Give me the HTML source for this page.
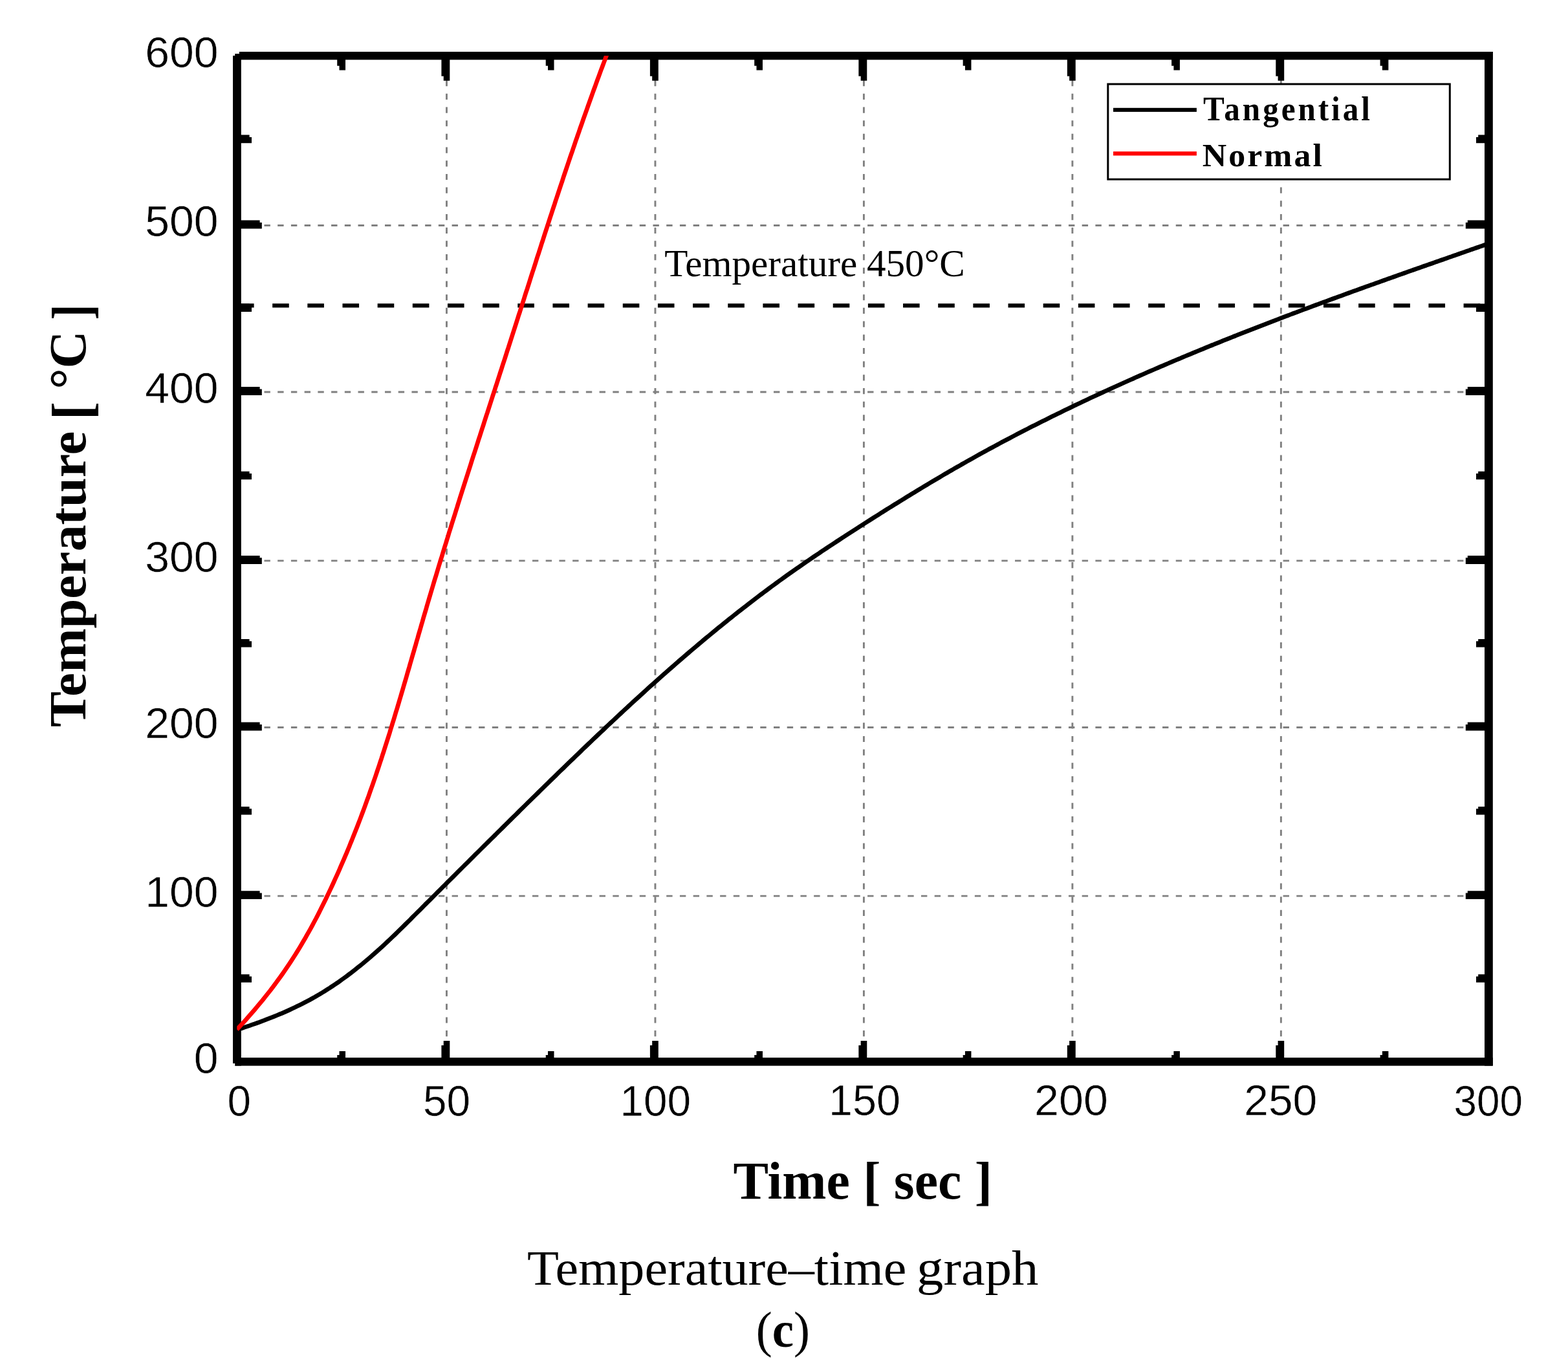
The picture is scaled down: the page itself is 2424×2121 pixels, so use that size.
<!DOCTYPE html>
<html><head><meta charset="utf-8"><title>Temperature–time graph</title>
<style>
html,body{margin:0;padding:0;background:#fff;}
body{width:2424px;height:2121px;overflow:hidden;}
svg{display:block;}
</style></head>
<body>
<svg width="2424" height="2121" viewBox="0 0 2424 2121">
<rect x="0" y="0" width="2424" height="2121" fill="#fff"/>
<line x1="690.47" y1="92.40" x2="690.47" y2="1635.00" stroke="#808080" stroke-width="2.9" stroke-dasharray="9.2 11.49" stroke-dashoffset="-11"/>
<line x1="1012.94" y1="92.40" x2="1012.94" y2="1635.00" stroke="#808080" stroke-width="2.9" stroke-dasharray="9.2 11.49" stroke-dashoffset="-11"/>
<line x1="1335.41" y1="92.40" x2="1335.41" y2="1635.00" stroke="#808080" stroke-width="2.9" stroke-dasharray="9.2 11.49" stroke-dashoffset="-11"/>
<line x1="1657.88" y1="92.40" x2="1657.88" y2="1635.00" stroke="#808080" stroke-width="2.9" stroke-dasharray="9.2 11.49" stroke-dashoffset="-11"/>
<line x1="1980.35" y1="92.40" x2="1980.35" y2="1635.00" stroke="#808080" stroke-width="2.9" stroke-dasharray="9.2 11.49" stroke-dashoffset="-11"/>
<line x1="367" y1="1385.10" x2="2295.00" y2="1385.10" stroke="#808080" stroke-width="2.9" stroke-dasharray="9.4 11.325"/>
<line x1="367" y1="1124.50" x2="2295.00" y2="1124.50" stroke="#808080" stroke-width="2.9" stroke-dasharray="9.4 11.325"/>
<line x1="367" y1="866.90" x2="2295.00" y2="866.90" stroke="#808080" stroke-width="2.9" stroke-dasharray="9.4 11.325"/>
<line x1="367" y1="606.00" x2="2295.00" y2="606.00" stroke="#808080" stroke-width="2.9" stroke-dasharray="9.4 11.325"/>
<line x1="367" y1="348.50" x2="2295.00" y2="348.50" stroke="#808080" stroke-width="2.9" stroke-dasharray="9.4 11.325"/>
<line x1="367" y1="472.4" x2="2295.00" y2="472.4" stroke="#000" stroke-width="6.2" stroke-dasharray="25.6 28.56"/>
<rect x="1712.8" y="130.0" width="528.5" height="147.2" fill="#fff" stroke="#000" stroke-width="3"/>
<rect x="1721.00" y="166.80" width="128.90" height="6.10" fill="#000"/>
<rect x="1721.00" y="234.20" width="128.90" height="6.30" fill="#f00"/>
<rect x="360.00" y="80.00" width="1947.80" height="12.40" fill="#000"/>
<rect x="360.00" y="1635.00" width="1947.80" height="12.60" fill="#000"/>
<rect x="360.00" y="80.00" width="12.80" height="1567.60" fill="#000"/>
<rect x="2295.00" y="80.00" width="12.80" height="1567.60" fill="#000"/>
<rect x="359.50" y="79.50" width="3.70" height="6.60" fill="#fff"/>
<rect x="359.50" y="79.50" width="10.40" height="3.60" fill="#fff"/>
<rect x="359.50" y="1643.90" width="3.70" height="4.20" fill="#fff"/>
<polygon points="682.42,90.40 695.32,90.40 695.32,124.70 685.72,124.70 685.72,117.70 682.42,117.70" fill="#000"/>
<polygon points="682.42,1637.00 695.32,1637.00 695.32,1609.00 685.72,1609.00 685.72,1616.00 682.42,1616.00" fill="#000"/>
<polygon points="1004.89,90.40 1017.79,90.40 1017.79,124.70 1008.19,124.70 1008.19,117.70 1004.89,117.70" fill="#000"/>
<polygon points="1004.89,1637.00 1017.79,1637.00 1017.79,1609.00 1008.19,1609.00 1008.19,1616.00 1004.89,1616.00" fill="#000"/>
<polygon points="1327.36,90.40 1340.26,90.40 1340.26,124.70 1330.66,124.70 1330.66,117.70 1327.36,117.70" fill="#000"/>
<polygon points="1327.36,1637.00 1340.26,1637.00 1340.26,1609.00 1330.66,1609.00 1330.66,1616.00 1327.36,1616.00" fill="#000"/>
<polygon points="1649.83,90.40 1662.73,90.40 1662.73,124.70 1653.13,124.70 1653.13,117.70 1649.83,117.70" fill="#000"/>
<polygon points="1649.83,1637.00 1662.73,1637.00 1662.73,1609.00 1653.13,1609.00 1653.13,1616.00 1649.83,1616.00" fill="#000"/>
<polygon points="1972.30,90.40 1985.20,90.40 1985.20,124.70 1975.60,124.70 1975.60,117.70 1972.30,117.70" fill="#000"/>
<polygon points="1972.30,1637.00 1985.20,1637.00 1985.20,1609.00 1975.60,1609.00 1975.60,1616.00 1972.30,1616.00" fill="#000"/>
<polygon points="521.24,90.40 534.03,90.40 534.03,108.60 524.53,108.60 524.53,101.70 521.24,101.70" fill="#000"/>
<polygon points="521.24,1637.00 534.03,1637.00 534.03,1625.10 524.53,1625.10 524.53,1631.00 521.24,1631.00" fill="#000"/>
<polygon points="843.71,90.40 856.50,90.40 856.50,108.60 847.00,108.60 847.00,101.70 843.71,101.70" fill="#000"/>
<polygon points="843.71,1637.00 856.50,1637.00 856.50,1625.10 847.00,1625.10 847.00,1631.00 843.71,1631.00" fill="#000"/>
<polygon points="1166.17,90.40 1178.98,90.40 1178.98,108.60 1169.47,108.60 1169.47,101.70 1166.17,101.70" fill="#000"/>
<polygon points="1166.17,1637.00 1178.98,1637.00 1178.98,1625.10 1169.47,1625.10 1169.47,1631.00 1166.17,1631.00" fill="#000"/>
<polygon points="1488.64,90.40 1501.45,90.40 1501.45,108.60 1491.94,108.60 1491.94,101.70 1488.64,101.70" fill="#000"/>
<polygon points="1488.64,1637.00 1501.45,1637.00 1501.45,1625.10 1491.94,1625.10 1491.94,1631.00 1488.64,1631.00" fill="#000"/>
<polygon points="1811.12,90.40 1823.92,90.40 1823.92,108.60 1814.41,108.60 1814.41,101.70 1811.12,101.70" fill="#000"/>
<polygon points="1811.12,1637.00 1823.92,1637.00 1823.92,1625.10 1814.41,1625.10 1814.41,1631.00 1811.12,1631.00" fill="#000"/>
<polygon points="2133.59,90.40 2146.39,90.40 2146.39,108.60 2136.89,108.60 2136.89,101.70 2133.59,101.70" fill="#000"/>
<polygon points="2133.59,1637.00 2146.39,1637.00 2146.39,1625.10 2136.89,1625.10 2136.89,1631.00 2133.59,1631.00" fill="#000"/>
<polygon points="370.80,1377.20 401.60,1377.20 401.60,1380.50 404.80,1380.50 404.80,1390.10 370.80,1390.10" fill="#000"/>
<polygon points="2297.00,1377.20 2268.80,1377.20 2268.80,1380.50 2265.80,1380.50 2265.80,1390.10 2297.00,1390.10" fill="#000"/>
<polygon points="370.80,1116.60 401.60,1116.60 401.60,1119.90 404.80,1119.90 404.80,1129.50 370.80,1129.50" fill="#000"/>
<polygon points="2297.00,1116.60 2268.80,1116.60 2268.80,1119.90 2265.80,1119.90 2265.80,1129.50 2297.00,1129.50" fill="#000"/>
<polygon points="370.80,859.00 401.60,859.00 401.60,862.30 404.80,862.30 404.80,871.90 370.80,871.90" fill="#000"/>
<polygon points="2297.00,859.00 2268.80,859.00 2268.80,862.30 2265.80,862.30 2265.80,871.90 2297.00,871.90" fill="#000"/>
<polygon points="370.80,598.10 401.60,598.10 401.60,601.40 404.80,601.40 404.80,611.00 370.80,611.00" fill="#000"/>
<polygon points="2297.00,598.10 2268.80,598.10 2268.80,601.40 2265.80,601.40 2265.80,611.00 2297.00,611.00" fill="#000"/>
<polygon points="370.80,340.60 401.60,340.60 401.60,343.90 404.80,343.90 404.80,353.50 370.80,353.50" fill="#000"/>
<polygon points="2297.00,340.60 2268.80,340.60 2268.80,343.90 2265.80,343.90 2265.80,353.50 2297.00,353.50" fill="#000"/>
<polygon points="370.80,1506.15 385.60,1506.15 385.60,1509.45 389.00,1509.45 389.00,1518.75 370.80,1518.75" fill="#000"/>
<polygon points="2297.00,1506.15 2285.20,1506.15 2285.20,1509.45 2282.00,1509.45 2282.00,1518.75 2297.00,1518.75" fill="#000"/>
<polygon points="370.80,1247.00 385.60,1247.00 385.60,1250.30 389.00,1250.30 389.00,1259.60 370.80,1259.60" fill="#000"/>
<polygon points="2297.00,1247.00 2285.20,1247.00 2285.20,1250.30 2282.00,1250.30 2282.00,1259.60 2297.00,1259.60" fill="#000"/>
<polygon points="370.80,987.90 385.60,987.90 385.60,991.20 389.00,991.20 389.00,1000.50 370.80,1000.50" fill="#000"/>
<polygon points="2297.00,987.90 2285.20,987.90 2285.20,991.20 2282.00,991.20 2282.00,1000.50 2297.00,1000.50" fill="#000"/>
<polygon points="370.80,728.65 385.60,728.65 385.60,731.95 389.00,731.95 389.00,741.25 370.80,741.25" fill="#000"/>
<polygon points="2297.00,728.65 2285.20,728.65 2285.20,731.95 2282.00,731.95 2282.00,741.25 2297.00,741.25" fill="#000"/>
<polygon points="370.80,469.45 385.60,469.45 385.60,472.75 389.00,472.75 389.00,482.05 370.80,482.05" fill="#000"/>
<polygon points="2297.00,469.45 2285.20,469.45 2285.20,472.75 2282.00,472.75 2282.00,482.05 2297.00,482.05" fill="#000"/>
<polygon points="370.80,208.60 385.60,208.60 385.60,211.90 389.00,211.90 389.00,221.20 370.80,221.20" fill="#000"/>
<polygon points="2297.00,208.60 2285.20,208.60 2285.20,211.90 2282.00,211.90 2282.00,221.20 2297.00,221.20" fill="#000"/>
<defs><clipPath id="pc"><rect x="366.3" y="86.2" width="1935.2" height="1555.1"/></clipPath></defs>
<g clip-path="url(#pc)" fill="none" stroke-width="6.7" stroke-linejoin="round">
<polyline points="366.3,1592.1 370.2,1590.8 374.1,1589.5 377.9,1588.2 381.8,1586.9 385.7,1585.6 389.6,1584.2 393.5,1582.8 397.3,1581.5 401.2,1580.1 405.1,1578.6 409.0,1577.2 412.8,1575.7 416.7,1574.2 420.6,1572.7 424.5,1571.1 428.4,1569.5 432.2,1567.9 436.1,1566.3 440.0,1564.6 443.9,1562.9 447.8,1561.1 451.6,1559.3 455.5,1557.5 459.4,1555.6 463.3,1553.7 467.2,1551.8 471.0,1549.8 474.9,1547.8 478.8,1545.7 482.7,1543.5 486.6,1541.4 490.4,1539.1 494.3,1536.9 498.2,1534.5 502.1,1532.1 505.9,1529.7 509.8,1527.2 513.7,1524.6 517.6,1522.0 521.5,1519.4 525.3,1516.7 529.2,1513.9 533.1,1511.1 537.0,1508.2 540.9,1505.3 544.7,1502.3 548.6,1499.3 552.5,1496.2 556.4,1493.1 560.3,1490.0 564.1,1486.8 568.0,1483.5 571.9,1480.2 575.8,1476.8 579.7,1473.4 583.5,1470.0 587.4,1466.5 591.3,1463.0 595.2,1459.4 599.0,1455.8 602.9,1452.1 606.8,1448.4 610.7,1444.7 614.6,1440.9 618.4,1437.1 622.3,1433.3 626.2,1429.5 630.1,1425.6 634.0,1421.8 637.8,1417.9 641.7,1414.0 645.6,1410.2 649.5,1406.3 653.4,1402.4 657.2,1398.5 661.1,1394.7 665.0,1390.8 668.9,1386.9 672.8,1383.0 676.6,1379.2 680.5,1375.3 684.4,1371.4 688.3,1367.6 692.1,1363.7 696.0,1359.8 699.9,1356.0 703.8,1352.1 707.7,1348.2 711.5,1344.4 715.4,1340.5 719.3,1336.7 723.2,1332.8 727.1,1328.9 730.9,1325.1 734.8,1321.2 738.7,1317.4 742.6,1313.5 746.5,1309.7 750.3,1305.8 754.2,1302.0 758.1,1298.1 762.0,1294.3 765.9,1290.5 769.7,1286.6 773.6,1282.8 777.5,1279.0 781.4,1275.1 785.2,1271.3 789.1,1267.5 793.0,1263.6 796.9,1259.8 800.8,1256.0 804.6,1252.2 808.5,1248.4 812.4,1244.5 816.3,1240.7 820.2,1236.9 824.0,1233.1 827.9,1229.3 831.8,1225.5 835.7,1221.7 839.6,1217.9 843.4,1214.1 847.3,1210.3 851.2,1206.5 855.1,1202.8 859.0,1199.0 862.8,1195.2 866.7,1191.4 870.6,1187.7 874.5,1183.9 878.3,1180.2 882.2,1176.4 886.1,1172.7 890.0,1168.9 893.9,1165.2 897.7,1161.5 901.6,1157.7 905.5,1154.0 909.4,1150.3 913.3,1146.6 917.1,1142.9 921.0,1139.2 924.9,1135.5 928.8,1131.9 932.7,1128.2 936.5,1124.5 940.4,1120.9 944.3,1117.2 948.2,1113.6 952.1,1110.0 955.9,1106.4 959.8,1102.7 963.7,1099.1 967.6,1095.6 971.4,1092.0 975.3,1088.4 979.2,1084.8 983.1,1081.3 987.0,1077.7 990.8,1074.2 994.7,1070.7 998.6,1067.1 1002.5,1063.6 1006.4,1060.1 1010.2,1056.7 1014.1,1053.2 1018.0,1049.7 1021.9,1046.3 1025.8,1042.8 1029.6,1039.4 1033.5,1036.0 1037.4,1032.6 1041.3,1029.2 1045.2,1025.8 1049.0,1022.4 1052.9,1019.1 1056.8,1015.7 1060.7,1012.4 1064.5,1009.1 1068.4,1005.8 1072.3,1002.5 1076.2,999.2 1080.1,995.9 1083.9,992.7 1087.8,989.4 1091.7,986.2 1095.6,983.0 1099.5,979.7 1103.3,976.6 1107.2,973.4 1111.1,970.2 1115.0,967.1 1118.9,963.9 1122.7,960.8 1126.6,957.7 1130.5,954.6 1134.4,951.5 1138.3,948.4 1142.1,945.4 1146.0,942.3 1149.9,939.3 1153.8,936.3 1157.6,933.3 1161.5,930.3 1165.4,927.3 1169.3,924.4 1173.2,921.4 1177.0,918.5 1180.9,915.6 1184.8,912.7 1188.7,909.8 1192.6,906.9 1196.4,904.1 1200.3,901.2 1204.2,898.4 1208.1,895.6 1212.0,892.8 1215.8,890.1 1219.7,887.3 1223.6,884.5 1227.5,881.8 1231.4,879.1 1235.2,876.4 1239.1,873.7 1243.0,871.0 1246.9,868.3 1250.7,865.7 1254.6,863.0 1258.5,860.4 1262.4,857.8 1266.3,855.2 1270.1,852.5 1274.0,850.0 1277.9,847.4 1281.8,844.8 1285.7,842.2 1289.5,839.7 1293.4,837.1 1297.3,834.6 1301.2,832.0 1305.1,829.5 1308.9,827.0 1312.8,824.5 1316.7,822.0 1320.6,819.5 1324.5,817.0 1328.3,814.5 1332.2,812.0 1336.1,809.5 1340.0,807.0 1343.8,804.6 1347.7,802.1 1351.6,799.7 1355.5,797.2 1359.4,794.8 1363.2,792.3 1367.1,789.9 1371.0,787.4 1374.9,785.0 1378.8,782.6 1382.6,780.2 1386.5,777.8 1390.4,775.4 1394.3,773.0 1398.2,770.6 1402.0,768.2 1405.9,765.8 1409.8,763.4 1413.7,761.1 1417.6,758.7 1421.4,756.4 1425.3,754.0 1429.2,751.7 1433.1,749.3 1436.9,747.0 1440.8,744.7 1444.7,742.4 1448.6,740.1 1452.5,737.8 1456.3,735.5 1460.2,733.2 1464.1,731.0 1468.0,728.7 1471.9,726.5 1475.7,724.2 1479.6,722.0 1483.5,719.8 1487.4,717.5 1491.3,715.3 1495.1,713.1 1499.0,711.0 1502.9,708.8 1506.8,706.6 1510.7,704.4 1514.5,702.3 1518.4,700.1 1522.3,698.0 1526.2,695.9 1530.0,693.8 1533.9,691.7 1537.8,689.6 1541.7,687.5 1545.6,685.4 1549.4,683.3 1553.3,681.3 1557.2,679.2 1561.1,677.2 1565.0,675.1 1568.8,673.1 1572.7,671.1 1576.6,669.1 1580.5,667.1 1584.4,665.1 1588.2,663.1 1592.1,661.1 1596.0,659.1 1599.9,657.2 1603.8,655.2 1607.6,653.2 1611.5,651.3 1615.4,649.4 1619.3,647.4 1623.1,645.5 1627.0,643.6 1630.9,641.7 1634.8,639.8 1638.7,637.9 1642.5,636.0 1646.4,634.1 1650.3,632.2 1654.2,630.4 1658.1,628.5 1661.9,626.6 1665.8,624.8 1669.7,623.0 1673.6,621.1 1677.5,619.3 1681.3,617.5 1685.2,615.6 1689.1,613.8 1693.0,612.0 1696.9,610.2 1700.7,608.4 1704.6,606.6 1708.5,604.8 1712.4,603.1 1716.2,601.3 1720.1,599.5 1724.0,597.8 1727.9,596.0 1731.8,594.2 1735.6,592.5 1739.5,590.8 1743.4,589.0 1747.3,587.3 1751.2,585.6 1755.0,583.8 1758.9,582.1 1762.8,580.4 1766.7,578.7 1770.6,577.0 1774.4,575.3 1778.3,573.6 1782.2,572.0 1786.1,570.3 1790.0,568.6 1793.8,566.9 1797.7,565.3 1801.6,563.6 1805.5,562.0 1809.3,560.3 1813.2,558.7 1817.1,557.0 1821.0,555.4 1824.9,553.8 1828.7,552.1 1832.6,550.5 1836.5,548.9 1840.4,547.3 1844.3,545.7 1848.1,544.1 1852.0,542.5 1855.9,540.9 1859.8,539.3 1863.7,537.7 1867.5,536.1 1871.4,534.5 1875.3,533.0 1879.2,531.4 1883.1,529.8 1886.9,528.3 1890.8,526.7 1894.7,525.2 1898.6,523.6 1902.4,522.1 1906.3,520.5 1910.2,519.0 1914.1,517.4 1918.0,515.9 1921.8,514.4 1925.7,512.9 1929.6,511.3 1933.5,509.8 1937.4,508.3 1941.2,506.8 1945.1,505.3 1949.0,503.8 1952.9,502.3 1956.8,500.8 1960.6,499.3 1964.5,497.8 1968.4,496.3 1972.3,494.8 1976.2,493.4 1980.0,491.9 1983.9,490.4 1987.8,488.9 1991.7,487.5 1995.5,486.0 1999.4,484.5 2003.3,483.1 2007.2,481.6 2011.1,480.2 2014.9,478.7 2018.8,477.3 2022.7,475.8 2026.6,474.4 2030.5,472.9 2034.3,471.5 2038.2,470.1 2042.1,468.6 2046.0,467.2 2049.9,465.8 2053.7,464.4 2057.6,462.9 2061.5,461.5 2065.4,460.1 2069.3,458.7 2073.1,457.3 2077.0,455.8 2080.9,454.4 2084.8,453.0 2088.6,451.6 2092.5,450.2 2096.4,448.8 2100.3,447.4 2104.2,446.0 2108.0,444.6 2111.9,443.2 2115.8,441.8 2119.7,440.4 2123.6,439.1 2127.4,437.7 2131.3,436.3 2135.2,434.9 2139.1,433.5 2143.0,432.1 2146.8,430.7 2150.7,429.4 2154.6,428.0 2158.5,426.6 2162.4,425.2 2166.2,423.9 2170.1,422.5 2174.0,421.1 2177.9,419.7 2181.7,418.4 2185.6,417.0 2189.5,415.6 2193.4,414.3 2197.3,412.9 2201.1,411.5 2205.0,410.2 2208.9,408.8 2212.8,407.5 2216.7,406.1 2220.5,404.7 2224.4,403.4 2228.3,402.0 2232.2,400.7 2236.1,399.3 2239.9,397.9 2243.8,396.6 2247.7,395.2 2251.6,393.9 2255.5,392.5 2259.3,391.2 2263.2,389.8 2267.1,388.4 2271.0,387.1 2274.8,385.7 2278.7,384.4 2282.6,383.0 2286.5,381.7 2290.4,380.3 2294.2,379.0 2298.1,377.6 2302.0,376.3" stroke="#000"/>
<polyline points="366.2,1591.5 370.9,1586.5 375.6,1581.4 380.1,1576.4 384.6,1571.3 389.0,1566.3 393.4,1561.2 397.6,1556.2 401.8,1551.1 406.0,1546.1 410.0,1541.0 414.0,1536.0 418.0,1531.0 421.8,1525.9 425.6,1520.9 429.3,1515.8 433.0,1510.8 436.6,1505.7 440.1,1500.7 443.5,1495.6 446.9,1490.6 450.2,1485.6 453.5,1480.5 456.7,1475.5 459.8,1470.4 462.9,1465.4 466.0,1460.3 468.9,1455.3 471.9,1450.2 474.7,1445.2 477.6,1440.1 480.4,1435.1 483.1,1430.1 485.8,1425.0 488.5,1420.0 491.1,1414.9 493.7,1409.9 496.2,1404.8 498.7,1399.8 501.2,1394.7 503.7,1389.7 506.1,1384.6 508.5,1379.6 510.9,1374.6 513.3,1369.5 515.6,1364.5 517.9,1359.4 520.2,1354.4 522.5,1349.3 524.7,1344.3 526.9,1339.2 529.1,1334.2 531.3,1329.2 533.4,1324.1 535.6,1319.1 537.7,1314.0 539.8,1309.0 541.8,1303.9 543.9,1298.9 545.9,1293.8 547.9,1288.8 549.9,1283.7 551.9,1278.7 553.8,1273.7 555.8,1268.6 557.7,1263.6 559.6,1258.5 561.5,1253.5 563.4,1248.4 565.2,1243.4 567.0,1238.3 568.9,1233.3 570.7,1228.2 572.4,1223.2 574.2,1218.2 576.0,1213.1 577.7,1208.1 579.5,1203.0 581.2,1198.0 582.9,1192.9 584.6,1187.9 586.3,1182.8 587.9,1177.8 589.6,1172.8 591.2,1167.7 592.9,1162.7 594.5,1157.6 596.1,1152.6 597.7,1147.5 599.3,1142.5 600.9,1137.4 602.5,1132.4 604.0,1127.3 605.6,1122.3 607.1,1117.3 608.7,1112.2 610.2,1107.2 611.7,1102.1 613.3,1097.1 614.8,1092.0 616.3,1087.0 617.8,1081.9 619.3,1076.9 620.8,1071.8 622.3,1066.8 623.7,1061.8 625.2,1056.7 626.7,1051.7 628.2,1046.6 629.6,1041.6 631.1,1036.5 632.6,1031.5 634.0,1026.4 635.5,1021.4 636.9,1016.4 638.4,1011.3 639.9,1006.3 641.3,1001.2 642.8,996.2 644.2,991.1 645.7,986.1 647.1,981.0 648.6,976.0 650.1,970.9 651.5,965.9 653.0,960.9 654.4,955.8 655.9,950.8 657.4,945.7 658.9,940.7 660.3,935.6 661.8,930.6 663.3,925.5 664.8,920.5 666.3,915.4 667.8,910.4 669.3,905.4 670.8,900.3 672.3,895.3 673.9,890.2 675.4,885.2 676.9,880.1 678.4,875.1 680.0,870.0 681.5,865.0 683.1,860.0 684.6,854.9 686.1,849.9 687.7,844.8 689.3,839.8 690.8,834.7 692.4,829.7 693.9,824.6 695.5,819.6 697.1,814.5 698.6,809.5 700.2,804.5 701.8,799.4 703.4,794.4 705.0,789.3 706.6,784.3 708.1,779.2 709.7,774.2 711.3,769.1 712.9,764.1 714.5,759.1 716.1,754.0 717.7,749.0 719.3,743.9 720.9,738.9 722.6,733.8 724.2,728.8 725.8,723.7 727.4,718.7 729.0,713.6 730.6,708.6 732.2,703.6 733.9,698.5 735.5,693.5 737.1,688.4 738.7,683.4 740.3,678.3 742.0,673.3 743.6,668.2 745.2,663.2 746.9,658.1 748.5,653.1 750.1,648.1 751.7,643.0 753.4,638.0 755.0,632.9 756.6,627.9 758.3,622.8 759.9,617.8 761.5,612.7 763.2,607.7 764.8,602.7 766.4,597.6 768.1,592.6 769.7,587.5 771.3,582.5 772.9,577.4 774.6,572.4 776.2,567.3 777.8,562.3 779.5,557.2 781.1,552.2 782.7,547.2 784.3,542.1 786.0,537.1 787.6,532.0 789.2,527.0 790.8,521.9 792.4,516.9 794.1,511.8 795.7,506.8 797.3,501.7 798.9,496.7 800.5,491.7 802.1,486.6 803.8,481.6 805.4,476.5 807.0,471.5 808.6,466.4 810.2,461.4 811.8,456.3 813.4,451.3 815.1,446.3 816.7,441.2 818.3,436.2 819.9,431.1 821.5,426.1 823.1,421.0 824.8,416.0 826.4,410.9 828.0,405.9 829.6,400.8 831.2,395.8 832.9,390.8 834.5,385.7 836.1,380.7 837.7,375.6 839.4,370.6 841.0,365.5 842.6,360.5 844.3,355.4 845.9,350.4 847.6,345.3 849.2,340.3 850.8,335.3 852.5,330.2 854.1,325.2 855.8,320.1 857.5,315.1 859.1,310.0 860.8,305.0 862.5,299.9 864.1,294.9 865.8,289.9 867.5,284.8 869.2,279.8 870.8,274.7 872.5,269.7 874.2,264.6 875.9,259.6 877.6,254.5 879.3,249.5 881.0,244.4 882.7,239.4 884.5,234.4 886.2,229.3 887.9,224.3 889.6,219.2 891.4,214.2 893.1,209.1 894.9,204.1 896.6,199.0 898.4,194.0 900.2,188.9 901.9,183.9 903.7,178.9 905.5,173.8 907.3,168.8 909.1,163.7 910.9,158.7 912.7,153.6 914.5,148.6 916.3,143.5 918.1,138.5 920.0,133.5 921.8,128.4 923.6,123.4 925.5,118.3 927.3,113.3 929.2,108.2 931.1,103.2 933.0,98.1 934.9,93.1 936.7,88.0 938.7,83.0" stroke="#f00"/>
</g>
<g transform="matrix(1.02885 0 0 1.00870 -9.135 -14.935)"><text stroke="#fff" stroke-width="0.5" x="337" y="1659.9" font-family="'Liberation Sans', Arial, sans-serif" font-size="66" text-anchor="end">0</text></g>
<g transform="matrix(1.02885 0 0 1.00870 -9.135 -12.391)"><text stroke="#fff" stroke-width="0.5" x="337" y="1402.2" font-family="'Liberation Sans', Arial, sans-serif" font-size="66" text-anchor="end">100</text></g>
<g transform="matrix(1.02885 0 0 1.00870 -9.135 -10.730)"><text stroke="#fff" stroke-width="0.5" x="337" y="1141.6" font-family="'Liberation Sans', Arial, sans-serif" font-size="66" text-anchor="end">200</text></g>
<g transform="matrix(1.02885 0 0 1.00870 -9.135 -8.087)"><text stroke="#fff" stroke-width="0.5" x="337" y="884.0" font-family="'Liberation Sans', Arial, sans-serif" font-size="66" text-anchor="end">300</text></g>
<g transform="matrix(1.02885 0 0 1.00870 -9.135 -5.717)"><text stroke="#fff" stroke-width="0.5" x="337" y="623.1" font-family="'Liberation Sans', Arial, sans-serif" font-size="66" text-anchor="end">400</text></g>
<g transform="matrix(1.02885 0 0 1.00870 -9.135 -3.983)"><text stroke="#fff" stroke-width="0.5" x="337" y="365.6" font-family="'Liberation Sans', Arial, sans-serif" font-size="66" text-anchor="end">500</text></g>
<g transform="matrix(1.02885 0 0 1.00870 -9.135 -1.513)"><text stroke="#fff" stroke-width="0.5" x="337" y="104.8" font-family="'Liberation Sans', Arial, sans-serif" font-size="66" text-anchor="end">600</text></g>
<g transform="matrix(0.99355 0 0 1.00870 5.765 -14.791)"><text stroke="#fff" stroke-width="0.5" x="366.4" y="1724.3" font-family="'Liberation Sans', Arial, sans-serif" font-size="66" text-anchor="middle">0</text></g>
<g transform="matrix(0.99559 0 0 1.00870 4.590 -14.791)"><text stroke="#fff" stroke-width="0.5" x="688.9" y="1724.3" font-family="'Liberation Sans', Arial, sans-serif" font-size="66" text-anchor="middle">50</text></g>
<g transform="matrix(0.99515 0 0 1.00870 6.965 -14.791)"><text stroke="#fff" stroke-width="0.5" x="1011.3" y="1724.3" font-family="'Liberation Sans', Arial, sans-serif" font-size="66" text-anchor="middle">100</text></g>
<g transform="matrix(1.00882 0 0 1.00870 -9.029 -14.791)"><text stroke="#fff" stroke-width="0.5" x="1333.8" y="1724.3" font-family="'Liberation Sans', Arial, sans-serif" font-size="66" text-anchor="middle">150</text></g>
<g transform="matrix(1.03269 0 0 1.00870 -54.471 -14.791)"><text stroke="#fff" stroke-width="0.5" x="1656.3" y="1724.3" font-family="'Liberation Sans', Arial, sans-serif" font-size="66" text-anchor="middle">200</text></g>
<g transform="matrix(1.02596 0 0 1.00870 -50.428 -14.791)"><text stroke="#fff" stroke-width="0.5" x="1978.8" y="1724.3" font-family="'Liberation Sans', Arial, sans-serif" font-size="66" text-anchor="middle">250</text></g>
<g transform="matrix(0.96762 0 0 1.00870 74.125 -14.791)"><text stroke="#fff" stroke-width="0.5" x="2301.2" y="1724.3" font-family="'Liberation Sans', Arial, sans-serif" font-size="66" text-anchor="middle">300</text></g>
<g transform="matrix(0.99772 0 0 1.00000 5.386 0.000)"><text x="1331.4" y="1853.1" font-family="'Liberation Serif', 'Times New Roman', serif" font-size="82" font-weight="bold" text-anchor="middle">Time [ sec ]</text></g>
<g transform="matrix(1.00000 0 0 1.02320 0.000 -25.028)"><text transform="translate(132.2 1123) rotate(-90)" font-family="'Liberation Serif', 'Times New Roman', serif" font-size="80.5" font-weight="bold">Temperature</text></g>
<g transform="matrix(1.06970 0 0 1.06111 -1.697 -35.050)"><text transform="translate(132.2 645) rotate(-90)" font-family="'Liberation Serif', 'Times New Roman', serif" font-size="80.5" font-weight="bold">[</text></g>
<g transform="matrix(1.00000 0 0 0.99750 0.000 2.990)"><text transform="translate(132.2 600) rotate(-90)" font-family="'Liberation Serif', 'Times New Roman', serif" font-size="80.5" font-weight="bold">°C</text></g>
<g transform="matrix(1.06970 0 0 0.91111 -1.697 43.733)"><text transform="translate(132.2 495) rotate(-90)" font-family="'Liberation Serif', 'Times New Roman', serif" font-size="80.5" font-weight="bold">]</text></g>
<g transform="matrix(1.00921 0 0 1.00000 -9.168 0.000)"><text x="1027" y="427.4" font-family="'Liberation Serif', 'Times New Roman', serif" font-size="58.6">Temperature 450°C</text></g>
<g transform="matrix(0.98462 0 0 1.03696 28.631 -6.280)"><text x="1860" y="185.6" font-family="'Liberation Serif', 'Times New Roman', serif" font-size="50" font-weight="bold" letter-spacing="4">Tangential</text></g>
<g transform="matrix(1.03672 0 0 1.02000 -67.568 -4.620)"><text x="1858" y="256.3" font-family="'Liberation Serif', 'Times New Roman', serif" font-size="50" font-weight="bold" letter-spacing="3">Normal</text></g>
<g transform="matrix(1.04097 0 0 1.00000 -34.369 0.000)"><text x="816" y="1985.6" font-family="'Liberation Serif', 'Times New Roman', serif" font-size="77">Temperature–time</text></g>
<g transform="matrix(1.07485 0 0 1.00000 -111.367 0.000)"><text x="1422" y="1985.6" font-family="'Liberation Serif', 'Times New Roman', serif" font-size="77">graph</text></g>
<g transform="matrix(0.97436 0 0 1.00294 29.477 -5.971)"><text x="1212" y="2082.2" font-family="'Liberation Serif', 'Times New Roman', serif" font-size="77" text-anchor="middle">(<tspan font-weight="bold">c</tspan>)</text></g>
</svg>
</body></html>
